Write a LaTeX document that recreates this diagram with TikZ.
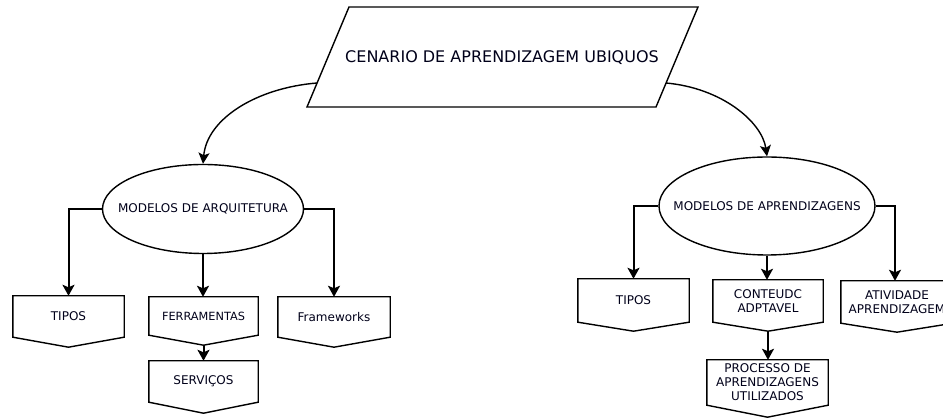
\documentclass[tikz,border=0pt]{standalone}
\usepackage{fontspec}
\setmainfont{DejaVu Sans}
\usetikzlibrary{arrows.meta,shapes.geometric}

\tikzset{
  txt/.style={font=\fontsize{12}{14}\selectfont, align=center, text=black!90!blue},
  oval/.style={ellipse, draw, line width=1.4pt, inner sep=0pt, txt},
  tagbox/.style={draw=none, inner sep=0pt, txt},
  tagline/.style={line width=1.4pt, line join=miter},
  link/.style={line width=2pt, -{Stealth[length=11pt,width=12pt,inset=2.5pt]}},
  curvelink/.style={line width=1.4pt, -{Stealth[length=11pt,width=11pt,inset=2.5pt]}},
}

\begin{document}
\begin{tikzpicture}[x=1pt,y=-1pt]
\useasboundingbox (0,0) rectangle (943,419);

% title parallelogram
\draw[tagline] (349,7) -- (698,7) -- (656,107) -- (307,107) -- cycle;
\node[txt, font=\fontsize{16}{18}\selectfont] (title) at (502,58) {CENARIO DE APRENDIZAGEM UBIQUOS};
\coordinate (tl) at (317,83);
\coordinate (tr) at (666,83);

% the two model ellipses (zero-width text box keeps the outline at its set size)
\node[oval, minimum width=201pt, minimum height=89pt] (arq) at (203,209) {\makebox[0pt]{\raisebox{-3pt}{MODELOS DE ARQUITETURA}}};
\node[oval, minimum width=216pt, minimum height=98pt] (apr) at (767,206) {\makebox[0pt]{\raisebox{-1pt}{MODELOS DE APRENDIZAGENS}}};

% left branch boxes
\node[tagbox, minimum width=111pt, minimum height=41pt] (tipA) at (68.5,316.5) {TIPOS};
\node[tagbox, minimum width=109pt, minimum height=38pt, font=\fontsize{11.3}{13}\selectfont] (fer) at (203.5,316) {FERRAMENTAS};
\node[tagbox, minimum width=112pt, minimum height=40pt] (frw) at (334,317) {Frameworks};
\node[tagbox, minimum width=109pt, minimum height=41pt] (ser) at (203.5,381.5) {SERVIÇOS};

% right branch boxes
\node[tagbox, minimum width=111pt, minimum height=43pt] (tipB) at (633.5,300.5) {TIPOS};
\node[tagbox, minimum width=110pt, minimum height=42pt] (cont) at (768,301) {CONTEUDC\\ADPTAVEL};
\node[tagbox, minimum width=112pt, minimum height=42pt] (ativ) at (897,302) {ATIVIDADE\\APRENDIZAGEM};
\node[tagbox, minimum width=121pt, minimum height=45pt] (proc) at (767.5,382.5) {PROCESSO DE\\APRENDIZAGENS\\UTILIZADOS};

% pointed-bottom outlines around the boxes
\foreach \n/\d in {tipA/10, fer/10, frw/10, ser/11, tipB/9, cont/9, ativ/9, proc/12}
  \draw[tagline] (\n.north west) -- (\n.north east) -- (\n.south east)
        -- ([yshift=-\d pt]\n.south) -- (\n.south west) -- cycle;

% curved links from the title
\draw[curvelink] (tl) .. controls (256,88) and (207,119) .. (arq.north);
\draw[curvelink] (tr) .. controls (722,88) and (762,122) .. (apr.north);

% left branch links
\draw[link] (arq.west) -| (tipA.north);
\draw[link] (arq.south) -- (arq.south |- fer.north);
\draw[link] (arq.east) -| (frw.north);
\draw[link] ([yshift=-10pt]fer.south) -- (ser.north);

% right branch links
\draw[link] (apr.west) -| (tipB.north);
\draw[link] (apr.south) -- (apr.south |- cont.north);
\draw[link] (apr.east) -| ([xshift=-2pt]ativ.north);
\draw[link] ([yshift=-9pt]cont.south) -- (cont.south |- proc.north);
\end{tikzpicture}
\end{document}
